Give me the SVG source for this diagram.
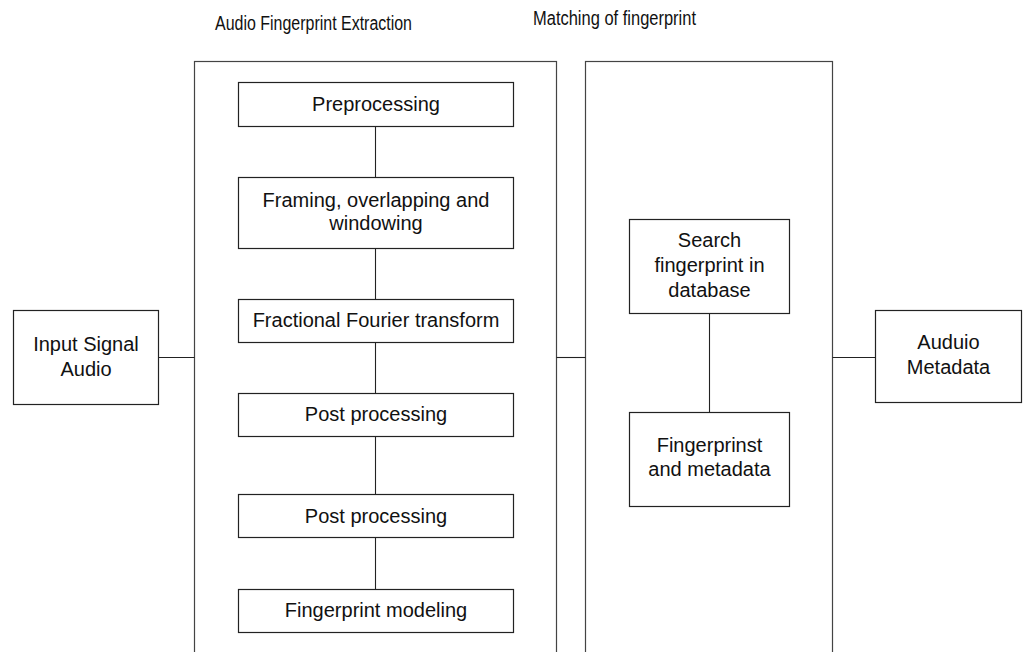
<svg xmlns="http://www.w3.org/2000/svg" width="1023" height="652" viewBox="0 0 1023 652">
  <style>
    .frame { fill: #fff; stroke: #444; stroke-width: 1.2; }
    .box { fill: #fff; stroke: #222; stroke-width: 1.2; }
    .link { stroke: #222; stroke-width: 1.1; fill: none; }
    text { font-family: "Liberation Sans", Arial, sans-serif; fill: #111; }
    .lbl { font-size: 20px; text-anchor: middle; }
    .title { font-size: 20px; }
  </style>
  <rect width="1023" height="652" fill="#fff"/>

  <!-- section titles -->
  <text class="title" x="215" y="30" textLength="197" lengthAdjust="spacingAndGlyphs">Audio Fingerprint Extraction</text>
  <text class="title" x="533" y="25" textLength="163" lengthAdjust="spacingAndGlyphs">Matching of fingerprint</text>

  <!-- section frames (open past the bottom edge) -->
  <g id="extraction-frame"><rect class="frame" x="194.5" y="61.5" width="362" height="620"/></g>
  <g id="matching-frame"><rect class="frame" x="585.5" y="61.5" width="247" height="620"/></g>

  <!-- connectors -->
  <g id="connectors">
    <line class="link" x1="158" y1="357.5" x2="194.5" y2="357.5"/>
    <line class="link" x1="556.5" y1="357.5" x2="585.5" y2="357.5"/>
    <line class="link" x1="832.5" y1="357.5" x2="875.5" y2="357.5"/>
    <line class="link" x1="375.5" y1="126" x2="375.5" y2="177"/>
    <line class="link" x1="375.5" y1="249" x2="375.5" y2="299"/>
    <line class="link" x1="375.5" y1="342" x2="375.5" y2="393"/>
    <line class="link" x1="375.5" y1="437" x2="375.5" y2="494"/>
    <line class="link" x1="375.5" y1="538" x2="375.5" y2="589"/>
    <line class="link" x1="709.5" y1="313" x2="709.5" y2="412"/>
  </g>

  <g id="input">
    <rect class="box" x="13.5" y="310.5" width="145" height="94"/>
    <text class="lbl" x="86" y="351">Input Signal</text>
    <text class="lbl" x="86" y="376">Audio</text>
  </g>

  <g id="preprocessing">
    <rect class="box" x="238.5" y="82.5" width="275" height="44"/>
    <text class="lbl" x="376" y="111">Preprocessing</text>
  </g>

  <g id="framing">
    <rect class="box" x="238.5" y="177.5" width="275" height="71"/>
    <text class="lbl" x="376" y="207">Framing, overlapping and</text>
    <text class="lbl" x="376" y="230">windowing</text>
  </g>

  <g id="frft">
    <rect class="box" x="238.5" y="299.5" width="275" height="43"/>
    <text class="lbl" x="376" y="327">Fractional Fourier transform</text>
  </g>

  <g id="post1">
    <rect class="box" x="238.5" y="393.5" width="275" height="43"/>
    <text class="lbl" x="376" y="421">Post processing</text>
  </g>

  <g id="post2">
    <rect class="box" x="238.5" y="494.5" width="275" height="43"/>
    <text class="lbl" x="376" y="523">Post processing</text>
  </g>

  <g id="modeling">
    <rect class="box" x="238.5" y="589.5" width="275" height="43"/>
    <text class="lbl" x="376" y="617">Fingerprint modeling</text>
  </g>

  <g id="search">
    <rect class="box" x="629.5" y="219.5" width="160" height="94"/>
    <text class="lbl" x="709.5" y="247">Search</text>
    <text class="lbl" x="709.5" y="272">fingerprint in</text>
    <text class="lbl" x="709.5" y="297">database</text>
  </g>

  <g id="store">
    <rect class="box" x="629.5" y="412.5" width="160" height="94"/>
    <text class="lbl" x="709.5" y="452">Fingerprinst</text>
    <text class="lbl" x="709.5" y="476">and metadata</text>
  </g>

  <g id="output">
    <rect class="box" x="875.5" y="310.5" width="146" height="92"/>
    <text class="lbl" x="948.5" y="349">Auduio</text>
    <text class="lbl" x="948.5" y="374">Metadata</text>
  </g>
</svg>
